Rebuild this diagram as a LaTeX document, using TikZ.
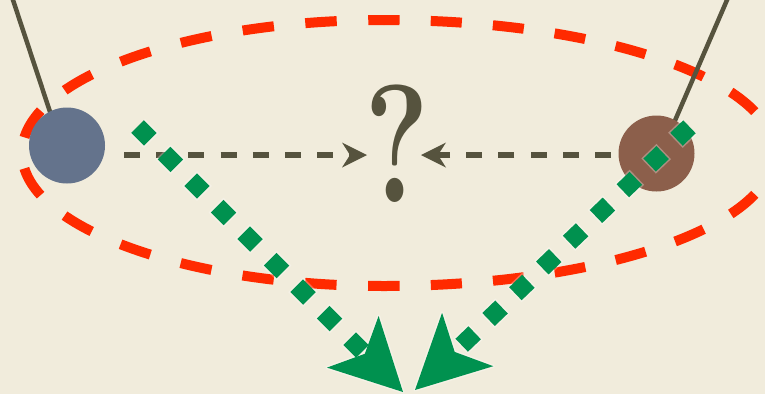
\documentclass[tikz,border=0pt]{standalone}
\usepackage{fontspec}
\usetikzlibrary{calc}
\definecolor{bgc}{HTML}{F1ECDC}
\definecolor{ellred}{HTML}{FF2A00}
\definecolor{dotgreen}{HTML}{00914F}
\definecolor{olive}{HTML}{56533E}
\definecolor{ballblue}{HTML}{64738C}
\definecolor{ballbrown}{HTML}{8C5F4B}
\begin{document}
\begin{tikzpicture}[x=1pt,y=-1pt,
  ball/.style={circle, minimum size=76pt, inner sep=0pt},
  pendstring/.style={draw=olive, line width=4.5pt},
  ellpart/.style={draw=ellred, line width=10pt},
  dotline/.style={draw=dotgreen, line width=18pt},
  dotglow/.style={draw=white, line width=21pt, opacity=0.3},
  guess/.style={draw=olive, line width=5.5pt, dash pattern=on 16pt off 16.2pt},
  greenhead/.style={fill=dotgreen},
  headglow/.style={draw=white, line width=3pt, opacity=0.3, line join=round},
  olivehead/.style={fill=olive}
]
\fill[bgc] (0,0) rectangle (765,394);
\useasboundingbox (0,0) rectangle (765,394);

% red dashed oval (two half-ellipses joined at top and bottom)
\draw[ellpart, dash pattern=on 31.5pt off 31.55pt, dash phase=15.75pt]
  (384,20) arc[start angle=90, end angle=270, x radius=362pt, y radius=133pt];
\draw[ellpart, dash pattern=on 31.1pt off 31.18pt, dash phase=15.55pt]
  (384,20) arc[start angle=90, end angle=-90, x radius=390pt, y radius=133pt];

% pendulum strings
\coordinate (ltop) at (12,-3);
\coordinate (lhook) at (61,145);
\coordinate (rtop) at (728.3,-3);
\coordinate (rhook) at (661,153);
\draw[pendstring] (ltop) -- (lhook);
\draw[pendstring] (rtop) -- (rhook);

% balls
\node[ball, fill=ballblue] (lb) at (67,145.5) {};
\node[ball, fill=ballbrown] (rb) at (656.5,153.5) {};

% question mark
\node[font=\fontsize{168}{168}\selectfont\bfseries, text=olive, inner sep=0pt,
      anchor=base, xscale=0.73] (q) at (397,202) {?};

% dashed arrows towards the question mark
\coordinate (aLs) at (124,155);
\coordinate (aLt) at (367,155);
\coordinate (aRs) at (611,155);
\coordinate (aRt) at (421,155);
\coordinate (aLn) at ($(aLt)!17pt!(aLs)$);
\coordinate (aLm) at ($(aLt)!25pt!(aLs)$);
\coordinate (aRn) at ($(aRt)!17pt!(aRs)$);
\coordinate (aRm) at ($(aRt)!25pt!(aRs)$);
\draw[guess] (aLs) -- (aLn);
\draw[guess] (aRs) -- (aRn);
\fill[olivehead] (aLt) -- ($(aLm)!12.5pt!90:(aLt)$) -- (aLn) -- ($(aLm)!12.5pt!-90:(aLt)$) -- cycle;
\fill[olivehead] (aRt) -- ($(aRm)!12.5pt!90:(aRt)$) -- (aRn) -- ($(aRm)!12.5pt!-90:(aRt)$) -- cycle;

% green dotted arrows
\coordinate (gLs) at (137.6,126.6);
\coordinate (gLt) at (403,392);
\coordinate (gRs) at (689.5,126.8);
\coordinate (gRt) at (415,390);
\coordinate (gLn) at ($(gLt)!54pt!(gLs)$);
\coordinate (gLm) at ($(gLt)!71pt!(gLs)$);
\coordinate (gLa) at ($(gLm)!36.5pt!90:(gLt)$);
\coordinate (gLb) at ($(gLm)!36.5pt!-90:(gLt)$);
\coordinate (gRn) at ($(gRt)!55pt!(gRs)$);
\coordinate (gRm) at ($(gRt)!73pt!(gRs)$);
\coordinate (gRa) at ($(gRm)!37pt!90:(gRt)$);
\coordinate (gRb) at ($(gRm)!37pt!-90:(gRt)$);

\draw[dotglow, dash pattern=on 21pt off 16.5pt, dash phase=1.5pt] (gLs) -- (gLn);
\draw[dotglow, dash pattern=on 21pt off 16.2pt, dash phase=1.5pt] (gRs) -- (gRn);
\draw[headglow] (gLt) -- (gLa) -- (gLn) -- (gLb) -- cycle;
\draw[headglow] (gRt) -- (gRa) -- (gRn) -- (gRb) -- cycle;

\draw[dotline, dash pattern=on 18pt off 19.5pt] (gLs) -- (gLn);
\draw[dotline, dash pattern=on 18pt off 19.2pt] (gRs) -- (gRn);
\fill[greenhead] (gLt) -- (gLa) -- (gLn) -- (gLb) -- cycle;
\fill[greenhead] (gRt) -- (gRa) -- (gRn) -- (gRb) -- cycle;
\end{tikzpicture}
\end{document}
